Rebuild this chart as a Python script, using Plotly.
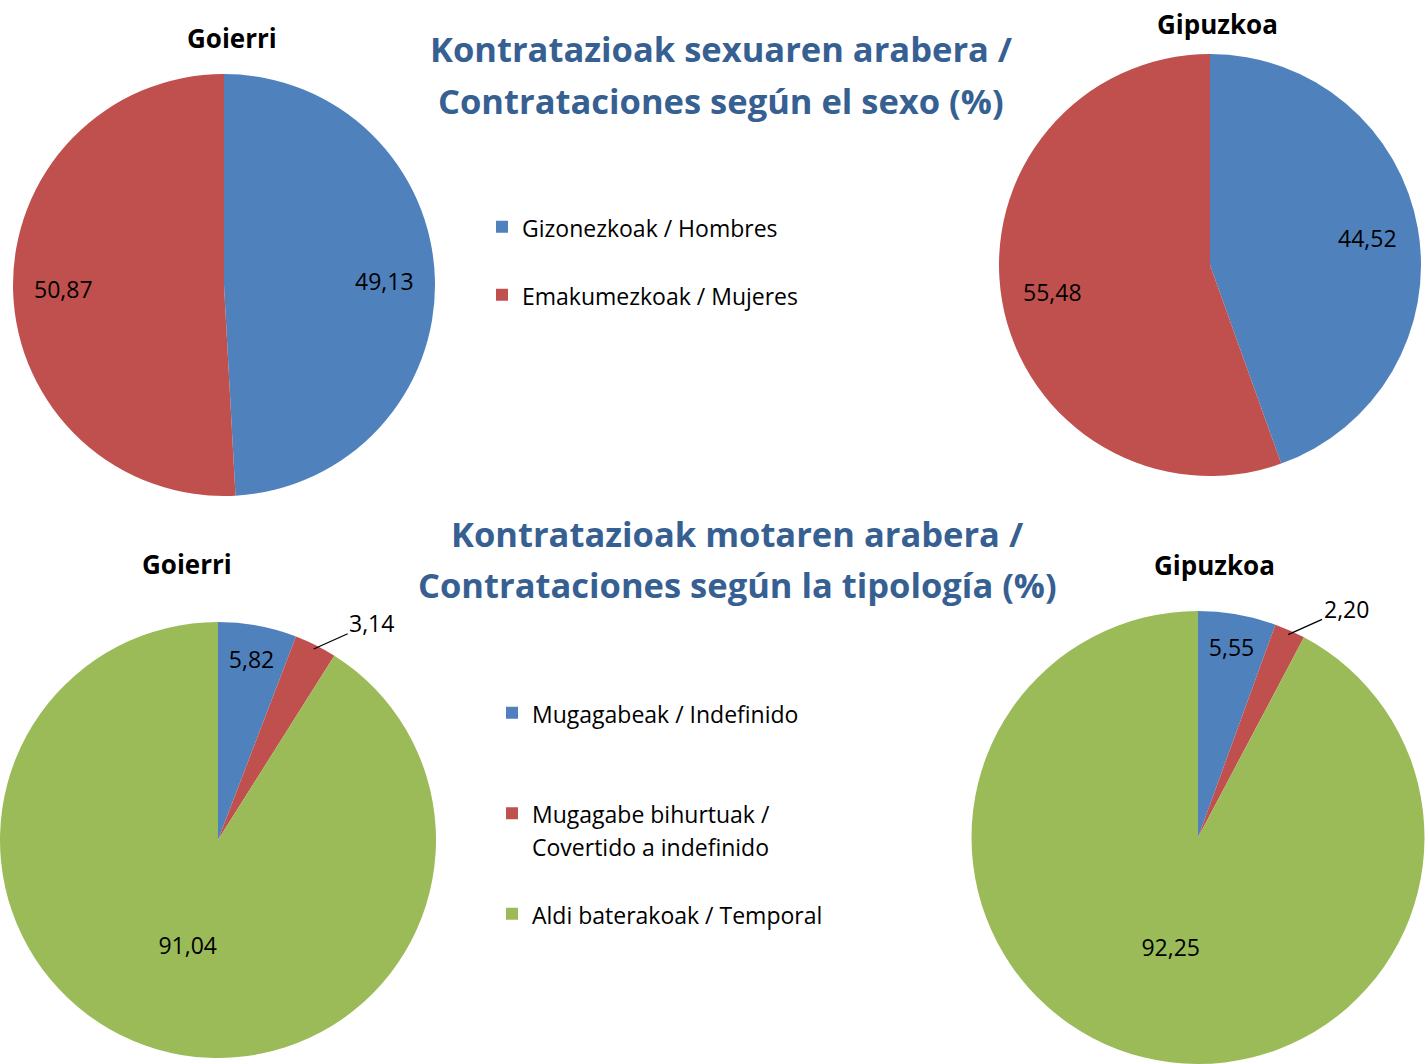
import math
import plotly.graph_objects as go

# ---- data ----
sex_labels = ["Gizonezkoak / Hombres", "Emakumezkoak / Mujeres"]
sex_goierri = [49.13, 50.87]
sex_gipuzkoa = [44.52, 55.48]

type_labels = ["Mugagabeak / Indefinido",
               "Mugagabe bihurtuak /<br>Covertido a indefinido",
               "Aldi baterakoak / Temporal"]
type_goierri = [5.82, 3.14, 91.04]
type_gipuzkoa = [5.55, 2.20, 92.25]

sex_colors = ["#4F81BD", "#C0504D"]
type_colors = ["#4F81BD", "#C0504D", "#9BBB59"]

W, H = 1426, 1064
FONT = "Open Sans"
TITLE_COLOR = "#376092"
LBL = 23  # data label / legend text size


def dom(x0, x1, y0, y1):
    return dict(x=[max(0, x0 / W), min(1, x1 / W)],
                y=[max(0, 1 - y1 / H), min(1, 1 - y0 / H)])


def fmt(v):
    return f"{v:.2f}".replace(".", ",")


def geom(d):
    """centre (paper) and radius (px) of a pie inside its domain"""
    w = (d["x"][1] - d["x"][0]) * W
    h = (d["y"][1] - d["y"][0]) * H
    r = min(w, h) / 2
    return (d["x"][0] + d["x"][1]) / 2, (d["y"][0] + d["y"][1]) / 2, r


def slice_point(d, vals, i, k):
    cx, cy, r = geom(d)
    tot = sum(vals)
    mid = (sum(vals[:i]) + vals[i] / 2) / tot * 2 * math.pi
    return cx + k * r * math.sin(mid) / W, cy + k * r * math.cos(mid) / H


def leg(lbl, extra):
    return f"<span style='font-size:{LBL}px'>{lbl}</span>" + "<br> " * extra


d_tl = dom(13, 435, 74, 496)
d_tr = dom(999, 1421, 54, 476)
d_bl = dom(0, 436, 618, 1062)
d_br = dom(971, 1425, 611, 1065)

sex_leg = [leg(l, 1) for l in sex_labels]
type_leg = [leg(type_labels[0], 2), leg(type_labels[1], 1), leg(type_labels[2], 0)]

fig = go.Figure()

pie_common = dict(sort=False, direction="clockwise", rotation=0,
                  hoverinfo="label+value",
                  insidetextorientation="horizontal",
                  textfont=dict(family=FONT, size=LBL, color="black"),
                  marker_line=dict(color="white", width=0))

fig.add_trace(go.Pie(labels=sex_leg, values=sex_goierri, textinfo="none",
                     marker=dict(colors=sex_colors), domain=d_tl,
                     legend="legend", **pie_common))
fig.add_trace(go.Pie(labels=sex_leg, values=sex_gipuzkoa, textinfo="none",
                     marker=dict(colors=sex_colors), domain=d_tr,
                     legend="legend", **pie_common))
fig.add_trace(go.Pie(labels=type_leg, values=type_goierri, textinfo="text",
                     text=[fmt(type_goierri[0]), "", fmt(type_goierri[2])],
                     marker=dict(colors=type_colors), domain=d_bl,
                     legend="legend2", textposition="inside", **pie_common))
fig.add_trace(go.Pie(labels=type_leg, values=type_gipuzkoa, textinfo="text",
                     text=[fmt(type_gipuzkoa[0]), "", fmt(type_gipuzkoa[2])],
                     marker=dict(colors=type_colors), domain=d_br,
                     legend="legend2", textposition="inside", **pie_common))

annotations = []
# data labels for the sex pies
for d, vals in [(d_tl, sex_goierri), (d_tr, sex_gipuzkoa)]:
    for i, v in enumerate(vals):
        x, y = slice_point(d, vals, i, 0.76)
        annotations.append(dict(text=fmt(v), x=x, y=y, xref="paper", yref="paper",
                                xanchor="center", yanchor="middle",
                                showarrow=False, font=dict(size=LBL, family=FONT, color="black")))
# outside labels with leader lines for the small slices
for d, vals in [(d_bl, type_goierri), (d_br, type_gipuzkoa)]:
    x, y = slice_point(d, vals, 1, 0.98)
    annotations.append(dict(text=fmt(vals[1]), x=x, y=y, xref="paper", yref="paper",
                            showarrow=True, arrowhead=0, arrowwidth=1.3, arrowcolor="black",
                            ax=58, ay=-26, standoff=0,
                            font=dict(size=LBL, family=FONT, color="black")))

titles = [
    ("Kontratazioak sexuaren arabera /", 721, 48, 34.5, TITLE_COLOR),
    ("Contrataciones según el sexo (%)", 721, 100, 34.5, TITLE_COLOR),
    ("Kontratazioak motaren arabera /", 737, 533, 34.5, TITLE_COLOR),
    ("Contrataciones según la tipología (%)", 737, 584, 34.5, TITLE_COLOR),
    ("Goierri", 232, 38, 26, "black"),
    ("Gipuzkoa", 1217, 24, 26, "black"),
    ("Goierri", 187, 564, 26, "black"),
    ("Gipuzkoa", 1214, 565, 26, "black"),
]
for txt, x, y, size, col in titles:
    annotations.append(dict(
        text="<b>" + txt + "</b>",
        x=x / W, y=1 - y / H, xref="paper", yref="paper", showarrow=False,
        xanchor="center", yanchor="middle", align="center",
        font=dict(size=size, color=col, family=FONT)))

fig.update_layout(
    width=W, height=H,
    margin=dict(l=0, r=0, t=0, b=0),
    paper_bgcolor="white", plot_bgcolor="white",
    font=dict(family=FONT, color="black"),
    annotations=annotations,
    legend=dict(x=482 / W, y=1 - 204 / H, xanchor="left", yanchor="top",
                font=dict(size=25, family=FONT, color="black"), valign="top",
                bgcolor="rgba(0,0,0,0)", itemclick=False),
    legend2=dict(x=492 / W, y=1 - 690 / H, xanchor="left", yanchor="top",
                 font=dict(size=25, family=FONT, color="black"), valign="top",
                 bgcolor="rgba(0,0,0,0)", itemclick=False),
    showlegend=True,
)

fig.write_html("out.html", config={"displayModeBar": False},
               post_script="document.body.style.margin='0px';")
